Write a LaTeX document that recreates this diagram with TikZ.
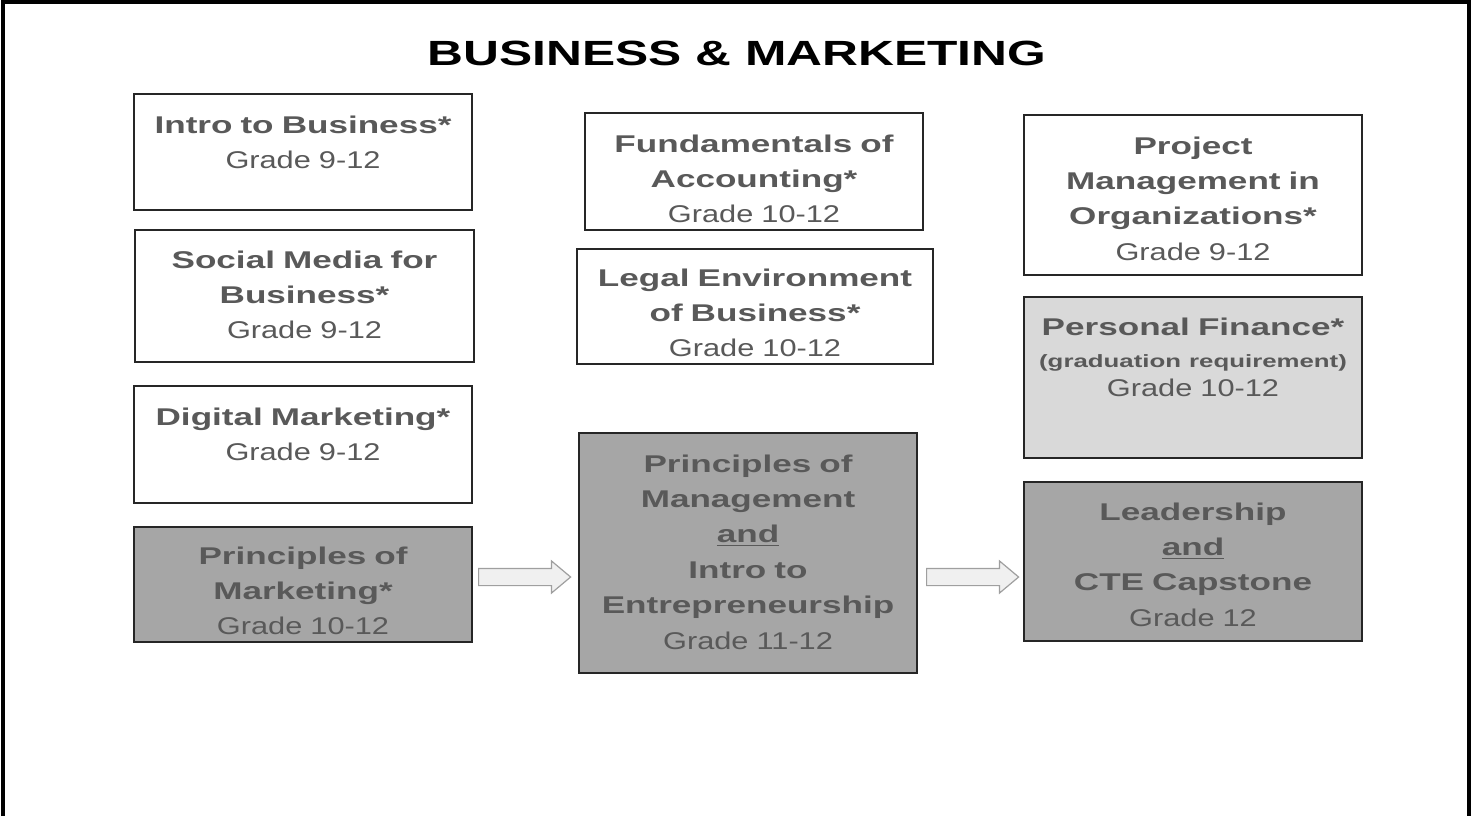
\documentclass[tikz,border=0pt]{standalone}
\usepackage{fontspec}
\setmainfont{Liberation Sans}
\newfontfamily\headfont{Liberation Sans}[FakeStretch=1.45]
\newfontfamily\gradefont{Liberation Sans}[FakeStretch=1.27]
\newfontfamily\titlefont{Liberation Sans}[FakeStretch=1.42]
\usepackage{tikz}
\usetikzlibrary{shapes.arrows}

\definecolor{coursegray}{HTML}{A6A6A6}
\definecolor{courselight}{HTML}{D9D9D9}
\definecolor{coursetext}{HTML}{595959}
\definecolor{courseline}{HTML}{262626}

\newcommand{\grade}[1]{{\gradefont\mdseries #1}}

\tikzset{
  course/.style={draw=courseline, line width=1pt, fill=white, inner sep=0pt},
  required/.style={course, fill=courselight},
  pathway/.style={course, fill=coursegray},
  coursename/.style={anchor=base, inner sep=0pt, text width=170pt, align=center,
    text=coursetext, font=\headfont\bfseries\fontsize{12.1}{17.7}\selectfont},
  blockarrow/.style={shape=single arrow, draw=gray!75, fill=gray!12, line width=0.6pt,
    minimum height=46pt, inner xsep=0pt, inner ysep=4pt, anchor=west,
    single arrow head extend=3.75pt, single arrow tip angle=80}
}

\begin{document}
\begin{tikzpicture}[x=0.5pt, y=-0.5pt]%[show background grid]
\useasboundingbox (0,0) rectangle (1475,816);
\draw[line width=2pt] (2.5,816) -- (2.5,2) -- (1469,2) -- (1469,816);

\node[anchor=base, inner sep=0pt, font=\titlefont\bfseries\fontsize{17.5}{20}\selectfont] (title) at (737,65) {BUSINESS \& MARKETING};

\node[course, minimum width=169pt, minimum height=58pt] (intro) at (303,152) {};
\node[course, minimum width=169.5pt, minimum height=66pt] (social) at (304.5,296) {};
\node[course, minimum width=169pt, minimum height=58.5pt] (digital) at (303,444.5) {};
\node[pathway, minimum width=169pt, minimum height=57.5pt] (marketing) at (303,584.5) {};

\node[course, minimum width=169pt, minimum height=58.5pt] (accounting) at (754,171.5) {};
\node[course, minimum width=178pt, minimum height=57.5pt] (legal) at (755,306.5) {};
\node[pathway, minimum width=169pt, minimum height=120pt] (management) at (748,553) {};

\node[course, minimum width=169pt, minimum height=80pt] (project) at (1193,195) {};
\node[required, minimum width=169pt, minimum height=80.5pt] (finance) at (1193,377.5) {};
\node[pathway, minimum width=169pt, minimum height=79.5pt] (leadership) at (1193,561.5) {};

\node[coursename] (introT) at (303,133) {Intro to Business*\\ \grade{Grade 9-12}};
\node[coursename] (socialT) at (304.5,268) {Social Media for\\ Business*\\ \grade{Grade 9-12}};
\node[coursename] (digitalT) at (303,425) {Digital Marketing*\\ \grade{Grade 9-12}};
\node[coursename] (marketingT) at (303,564) {Principles of\\ Marketing*\\ \grade{Grade 10-12}};

\node[coursename] (accountingT) at (754,152) {Fundamentals of\\ Accounting*\\ \grade{Grade 10-12}};
\node[coursename] (legalT) at (755,286) {Legal Environment\\ of Business*\\ \grade{Grade 10-12}};
\node[coursename] (managementT) at (748,472) {Principles of\\ Management\\ \underline{and}\\ Intro to\\ Entrepreneurship\\ \grade{Grade 11-12}};

\node[coursename] (projectT) at (1193,154) {Project\\ Management in\\ Organizations*\\ \grade{Grade 9-12}};
\node[coursename] (financeT) at (1193,335) {Personal Finance*\\[-1.7pt] {\fontsize{8.9}{10}\selectfont (graduation requirement)}\\[-3.2pt] \grade{Grade 10-12}};
\node[coursename] (leadershipT) at (1193,520) {Leadership\\ \underline{and}\\ CTE Capstone\\ \grade{Grade 12}};

\node[blockarrow] (toManagement) at (478,577) {};
\node[blockarrow] (toLeadership) at (926,577) {};

\end{tikzpicture}
\end{document}
